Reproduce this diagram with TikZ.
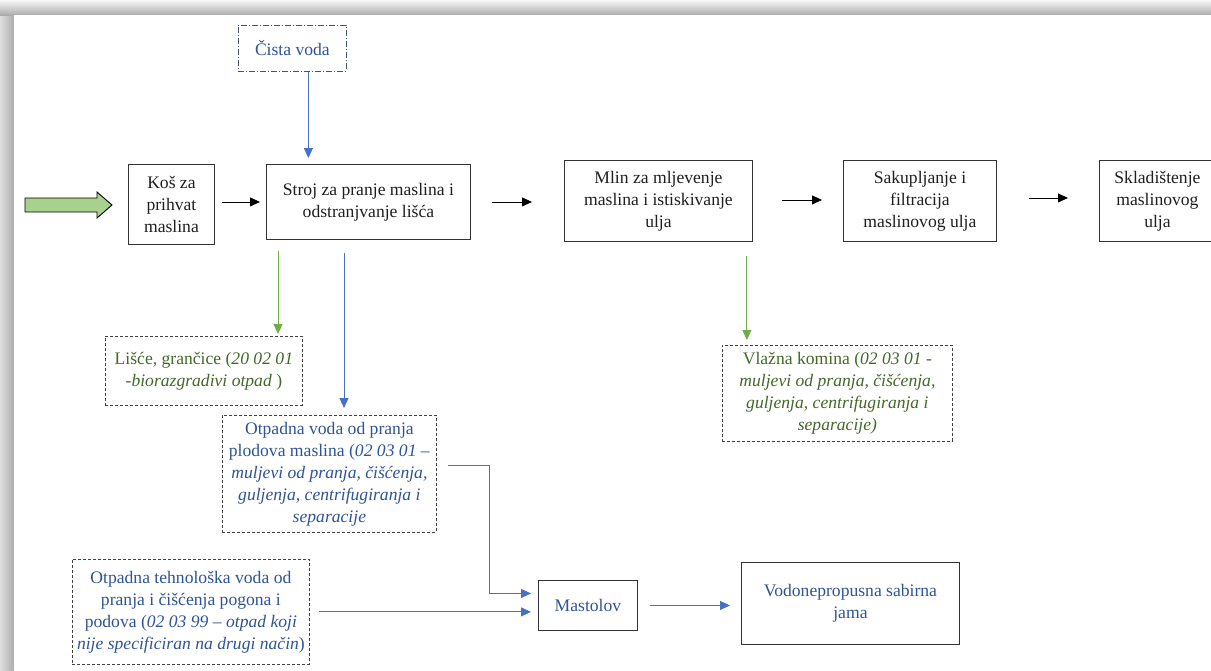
\documentclass[tikz,border=0pt]{standalone}
\usepackage{fontspec}
\setmainfont{Liberation Serif}
\usetikzlibrary{arrows.meta}
\definecolor{txtblue}{RGB}{47,84,150}
\definecolor{txtgreen}{RGB}{67,104,40}
\definecolor{lineblue}{RGB}{68,114,196}
\definecolor{linegreen}{RGB}{112,173,71}
\definecolor{blockgreen}{RGB}{169,209,142}
\definecolor{slate}{RGB}{68,84,106}
\newcommand{\lbl}{\fontsize{17.6}{22}\selectfont}
\tikzset{
  proc/.style={draw=black!80, line width=0.9pt, text=black!88, align=center, font=\lbl, inner sep=0pt, anchor=north west},
  waste/.style={draw=black!75, line width=0.8pt, dash pattern=on 3pt off 2pt, align=center, font=\lbl, inner sep=0pt, anchor=north west},
  blk/.style={draw=black, line width=0.9pt, -{Triangle[length=10pt,width=9pt]}},
  bluea/.style={draw=lineblue, line width=0.9pt, -{Triangle[length=10pt,width=9pt]}},
  greena/.style={draw=linegreen, line width=0.9pt, -{Triangle[length=10pt,width=9pt]}}
}
\begin{document}
\begin{tikzpicture}[x=1pt,y=-1pt]
\useasboundingbox (0,0) rectangle (1211,670);
\clip (0,0) rectangle (1211,670);
% frame shadow
\shade[left color=gray!25, right color=gray!65] (0,0) rectangle (14,670);
\shade[top color=gray!6, bottom color=gray!65] (0,0) rectangle (1211,15);
\fill[white] (14,15) rectangle (1211,670);

% input block arrow
\draw[fill=blockgreen, draw=black, line width=0.9pt, line join=miter]
  (25,198) -- (97,198) -- (97,192) -- (112,205) -- (97,218) -- (97,212) -- (25,212) -- cycle;

% process boxes
\node[proc, minimum width=86pt, minimum height=80pt] (kos) at (128,164) {Koš za\\prihvat\\maslina};
\node[proc, minimum width=204pt, minimum height=75pt] (stroj) at (266,164) {Stroj za pranje maslina i\\odstranjvanje lišća};
\node[proc, minimum width=188pt, minimum height=81pt] (mlin) at (564,160) {Mlin za mljevenje\\maslina i istiskivanje\\ulja};
\node[proc, minimum width=153pt, minimum height=81pt] (sak) at (843,160) {Sakupljanje i\\filtracija\\maslinovog ulja};
\node[proc, minimum width=116pt, minimum height=81pt] (skl) at (1099,160) {Skladištenje\\maslinovog\\ulja};
\node[proc, text=txtblue, minimum width=99pt, minimum height=50pt] (mast) at (538,580) {Mastolov};
\node[proc, text=txtblue, minimum width=218pt, minimum height=82pt] (vodo) at (741,562) {Vodonepropusna sabirna\\jama};

% input / waste boxes
\node[waste, draw=slate, dash pattern=on 6pt off 2pt on 1pt off 2pt, text=txtblue, minimum width=108pt, minimum height=46pt] (cista) at (238,25) {Čista voda};
\node[waste, text=txtgreen, minimum width=197pt, minimum height=69pt] (lisce) at (105,336) {Lišće, grančice (\textit{20 02 01}\\\textit{-biorazgradivi otpad} )};
\node[waste, text=txtblue, minimum width=214pt, minimum height=117pt] (otpv) at (222,415) {Otpadna voda od pranja\\plodova maslina (\textit{02 03 01 –}\\\textit{muljevi od pranja, čišćenja,}\\\textit{guljenja, centrifugiranja i}\\\textit{separacije}};
\node[waste, text=txtgreen, minimum width=230pt, minimum height=96pt] (vlaz) at (722,345) {Vlažna komina (\textit{02 03 01 -}\\\textit{muljevi od pranja, čišćenja,}\\\textit{guljenja, centrifugiranja i}\\\textit{separacije)}};
\node[waste, text=txtblue, minimum width=237pt, minimum height=105pt] (otpt) at (72,559) {Otpadna tehnološka voda od\\pranja i čišćenja pogona i\\podova (\textit{02 03 99 – otpad koji}\\\textit{nije specificiran na drugi način})};

% main flow arrows
\draw[blk, shorten <=7pt, shorten >=6pt] (kos.east |- stroj.west) -- (stroj.west);
\draw[blk, shorten <=21pt, shorten >=32pt] (stroj.east) -- (stroj.east -| mlin.west);
\draw[blk, shorten <=29pt, shorten >=21pt] ([yshift=1pt]mlin.east) -- ([yshift=1pt]mlin.east -| sak.west);
\draw[blk, shorten <=32pt, shorten >=31pt] ([yshift=3pt]sak.east) -- ([yshift=3pt]sak.east -| skl.west);

% side flows
\draw[bluea, shorten >=6pt] ([xshift=16pt]cista.south) -- ([xshift=16pt]cista.south |- stroj.north);
\draw[greena, shorten <=11pt, shorten >=2pt] ([xshift=12pt]stroj.south west) -- ([xshift=12pt]stroj.south west |- lisce.north);
\draw[bluea, shorten <=13pt, shorten >=7pt] ([xshift=78pt]stroj.south west) -- ([xshift=78pt]stroj.south west |- otpv.north);
\draw[greena, shorten <=14pt, shorten >=5pt] ([xshift=-6pt]mlin.south east) -- ([xshift=-6pt]mlin.south east |- vlaz.north);
\draw[bluea] ([xshift=11pt,yshift=8pt]otpv.east) -| ([xshift=-49pt,yshift=12pt]mast.west) -- ([xshift=-7pt,yshift=12pt]mast.west);
\draw[bluea, shorten <=9pt, shorten >=7pt] (otpt.east) -- (otpt.east -| mast.west);
\draw[bluea, shorten <=12pt, shorten >=11pt] (mast.east) -- (mast.east -| vodo.west);
\end{tikzpicture}
\end{document}
